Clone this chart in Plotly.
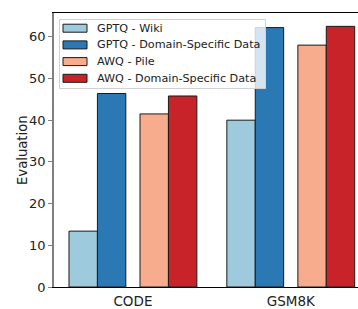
import plotly.graph_objects as go

categories = ["CODE", "GSM8K"]
series_names = ["GPTQ - Wiki", "GPTQ - Domain-Specific Data", "AWQ - Pile", "AWQ - Domain-Specific Data"]
gptq_wiki = [13.4, 40.0]
gptq_domain = [46.4, 62.2]
awq_pile = [41.5, 58.0]
awq_domain = [45.8, 62.5]
yticks = [0, 10, 20, 30, 40, 50, 60]

colors = ["#9dcadc", "#2a78b4", "#f7ad8d", "#c9232a"]
offsets = [-0.315, -0.135, 0.135, 0.315]
bar_w = 0.18

W, H = 358, 309
ML, MR, MT, MB = 54, 0, 13, 22
PW, PH = W - ML - MR, H - MT - MB


def px(x):
    return (x - ML) / PW


def py(y):
    return (H - MB - y) / PH


fig = go.Figure()
for name, vals, col, off in zip(series_names, [gptq_wiki, gptq_domain, awq_pile, awq_domain], colors, offsets):
    fig.add_trace(go.Bar(
        x=[i + off for i in range(len(categories))],
        y=vals,
        width=bar_w,
        name=name,
        marker=dict(color=col, line=dict(color="#1a1a1a", width=1)),
    ))

# manual legend (matplotlib style)
shapes = [dict(type="rect", xref="paper", yref="paper",
               x0=px(59.5), x1=px(265.5), y0=py(88.5), y1=py(19.5),
               fillcolor="rgba(255,255,255,0.8)", line=dict(color="#d0d0d0", width=1), layer="above")]
annotations = []
row_centers = [28.2, 44.9, 61.6, 78.3]
for name, col, yc in zip(series_names, colors, row_centers):
    shapes.append(dict(type="rect", xref="paper", yref="paper",
                       x0=px(63), x1=px(87), y0=py(yc + 4), y1=py(yc - 4),
                       fillcolor=col, line=dict(color="#1a1a1a", width=1), layer="above"))
    annotations.append(dict(xref="paper", yref="paper", x=px(95), y=py(yc),
                            xanchor="left", yanchor="middle", text=name, showarrow=False,
                            font=dict(size=11.2, family="DejaVu Sans", color="#222")))

# y-axis title
annotations.append(dict(xref="paper", yref="paper", x=px(22), y=0.5, xanchor="center", yanchor="middle",
                        text="Evaluation", textangle=-90, showarrow=False,
                        font=dict(size=13.2, family="DejaVu Sans", color="#222")))

fig.update_layout(
    width=W, height=H,
    margin=dict(l=ML, r=MR, t=MT, b=MB),
    plot_bgcolor="white", paper_bgcolor="white",
    barmode="overlay",
    font=dict(family="DejaVu Sans", color="#222", size=12),
    showlegend=False,
    shapes=shapes,
    annotations=annotations,
    xaxis=dict(
        range=[-0.5, 1.426],
        tickvals=list(range(len(categories))), ticktext=categories,
        showline=True, linecolor="black", linewidth=1, mirror=True,
        ticks="", showgrid=False, zeroline=False, automargin=False,
        tickfont=dict(size=13.5), ticklabelstandoff=2,
    ),
    yaxis=dict(
        range=[0, 65.7],
        tickvals=yticks,
        showline=True, linecolor="#808080", linewidth=1.5,
        ticks="outside", ticklen=4, tickcolor="#808080", tickwidth=1,
        showgrid=False, zeroline=False, automargin=False,
        tickfont=dict(size=13),
    ),
)

fig.write_html("out.html", config={"displayModeBar": False},
               post_script="document.body.style.margin='0';document.body.style.overflow='hidden';")
